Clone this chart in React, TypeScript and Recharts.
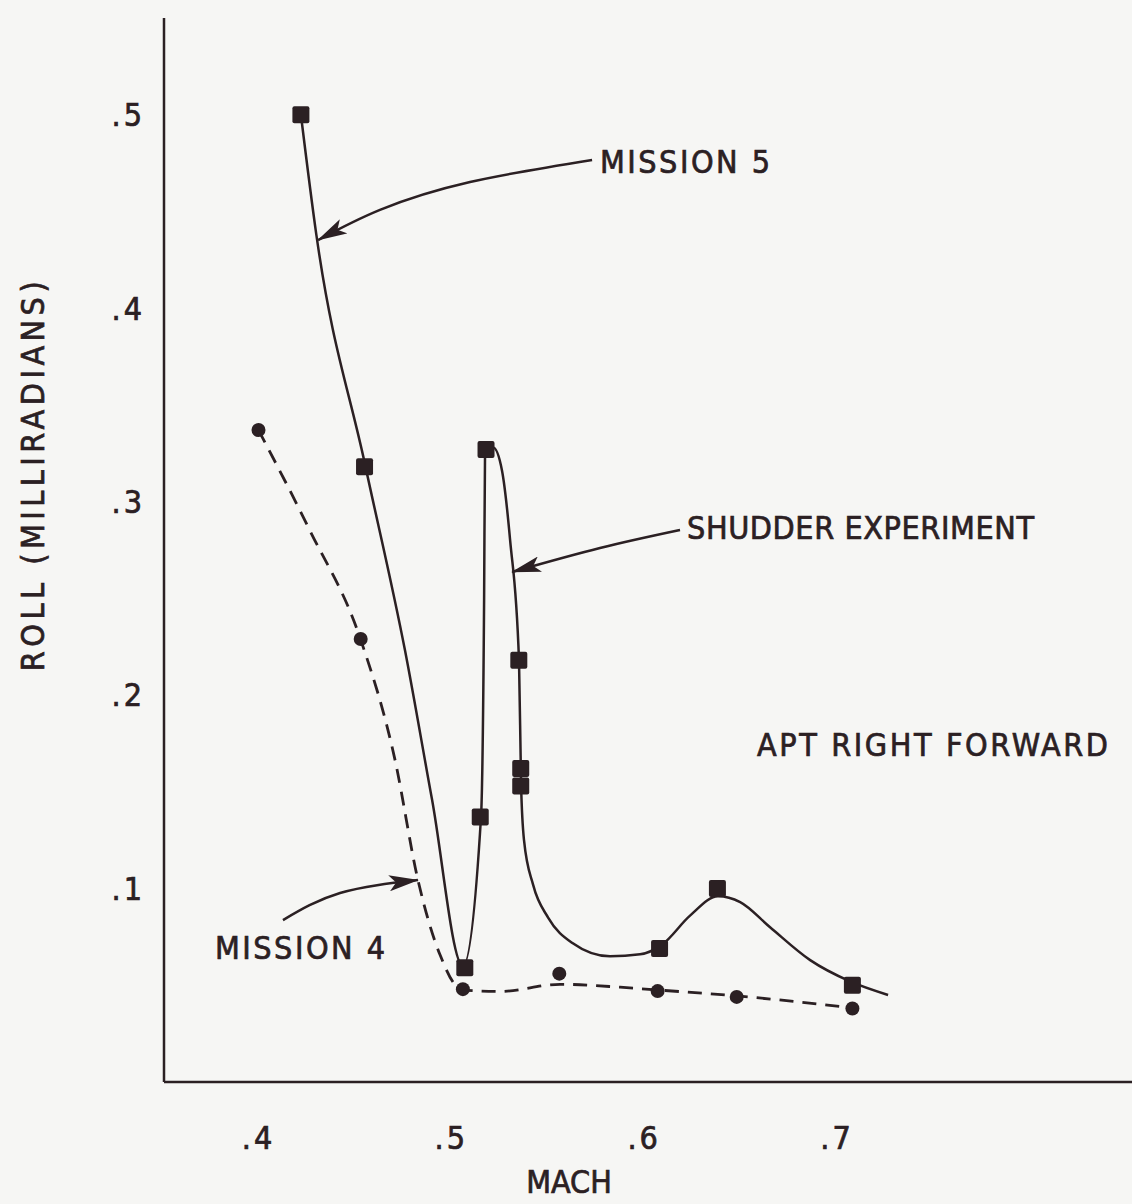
import { ComposedChart, Line, Scatter, XAxis, YAxis } from 'recharts';

const INK = '#2b2023';
const PAPER = '#f6f6f4';
const FONT = "'DejaVu Sans Condensed', 'Liberation Sans Narrow', sans-serif";

const machTicks = [0.4, 0.5, 0.6, 0.7];
const rollTicks = [0.1, 0.2, 0.3, 0.4, 0.5];

// measured points, mission 5 (squares) and mission 4 (circles)
const m5Mach = [0.422, 0.455, 0.507, 0.515, 0.518, 0.535, 0.536, 0.536, 0.608, 0.638, 0.708];
const m5Roll = [0.5, 0.318, 0.059, 0.137, 0.327, 0.218, 0.162, 0.153, 0.069, 0.1, 0.05];
const m4Mach = [0.4, 0.453, 0.506, 0.556, 0.607, 0.648, 0.708];
const m4Roll = [0.337, 0.229, 0.048, 0.056, 0.047, 0.044, 0.038];

// faired curves
const m5FairMach = [0.422, 0.43, 0.4553, 0.476, 0.49, 0.506, 0.5154, 0.517, 0.5175, 0.5217, 0.5263, 0.5305, 0.5351, 0.5362, 0.5377, 0.5424, 0.5502, 0.5626, 0.5823, 0.5979, 0.6093, 0.6238, 0.6383, 0.6498, 0.6653, 0.6861, 0.7068, 0.7265];
const m5FairRoll = [0.5, 0.438, 0.319, 0.223, 0.146, 0.06, 0.137, 0.249, 0.327, 0.328, 0.316, 0.28, 0.218, 0.153, 0.125, 0.102, 0.085, 0.072, 0.065, 0.066, 0.071, 0.086, 0.096, 0.093, 0.08, 0.063, 0.052, 0.045];
const m4FairMach = [0.4, 0.4267, 0.4527, 0.4708, 0.4827, 0.4942, 0.5056, 0.5253, 0.5564, 0.5875, 0.6067, 0.6482, 0.7078];
const m4FairRoll = [0.337, 0.285, 0.2295, 0.1665, 0.1044, 0.0656, 0.0476, 0.0468, 0.0505, 0.049, 0.0476, 0.0445, 0.0383];

// leader arrows (tail -> tip)
const arrow5Mach = [0.573, 0.5097, 0.463, 0.4309];
const arrow5Roll = [0.4766, 0.4652, 0.4508, 0.4352];
const arrowShudMach = [0.6186, 0.5771, 0.5315];
const arrowShudRoll = [0.2853, 0.276, 0.2636];
const arrow4Mach = [0.4127, 0.4423, 0.4827];
const arrow4Roll = [0.0837, 0.0977, 0.1044];

const zip = (xs: number[], ys: number[]) => xs.map((x, i) => ({ x, y: ys[i] }));

const mission5 = zip(m5Mach, m5Roll);
const mission4 = zip(m4Mach, m4Roll);
const mission5Fair = zip(m5FairMach, m5FairRoll);
const mission4Fair = zip(m4FairMach, m4FairRoll);
const arrows = [
  zip(arrow5Mach, arrow5Roll),
  zip(arrowShudMach, arrowShudRoll),
  zip(arrow4Mach, arrow4Roll),
];

const fmt = (v: number) => String(v).replace(/^0/, '');
const tickStyle = {
  fill: INK,
  stroke: INK,
  strokeWidth: 0.7,
  fontSize: 32,
  fontFamily: FONT,
  letterSpacing: 3,
};

function SquareMark(props: any) {
  const { cx, cy } = props;
  return <rect x={cx - 8.5} y={cy - 8.5} width={17} height={17} rx={2} fill={INK} />;
}

function DotMark(props: any) {
  const { cx, cy } = props;
  return <circle cx={cx} cy={cy} r={7} fill={INK} />;
}

const notes = [
  { text: 'MISSION 5', left: 600, top: 162, spacing: 2.5 },
  { text: 'SHUDDER EXPERIMENT', left: 687, top: 528, spacing: 0.6 },
  { text: 'APT RIGHT FORWARD', left: 757, top: 745, spacing: 2.6 },
  { text: 'MISSION 4', left: 215, top: 948, spacing: 2.5 },
];

const textStyle: React.CSSProperties = {
  position: 'absolute',
  fontFamily: FONT,
  fontSize: 32,
  color: INK,
  lineHeight: 1,
  whiteSpace: 'nowrap',
  WebkitTextStroke: `0.7px ${INK}`,
};

export default function App() {
  return (
    <div style={{ position: 'absolute', left: 0, top: 0, width: 1132, height: 1204, background: PAPER }}>
      <ComposedChart width={1132} height={1204} margin={{ top: 18, right: 0, bottom: 0, left: 0 }}>
        <defs>
          <marker
            id="head"
            viewBox="0 0 30 16"
            refX="29"
            refY="8"
            markerWidth="30"
            markerHeight="16"
            markerUnits="userSpaceOnUse"
            orient="auto"
          >
            <path d="M0,0 L30,8 L0,16 L7,8 z" fill={INK} />
          </marker>
        </defs>
        <XAxis
          type="number"
          dataKey="x"
          domain={[0.351, 0.853]}
          ticks={machTicks}
          tickFormatter={fmt}
          allowDataOverflow
          axisLine={{ stroke: INK, strokeWidth: 2.5 }}
          tickLine={false}
          tickSize={0}
          tickMargin={44}
          height={122}
          tick={tickStyle}
        />
        <YAxis
          type="number"
          dataKey="y"
          domain={[0, 0.55]}
          ticks={rollTicks}
          tickFormatter={fmt}
          allowDataOverflow
          axisLine={{ stroke: INK, strokeWidth: 2.5 }}
          tickLine={false}
          tickSize={0}
          tickMargin={19}
          width={164}
          tick={tickStyle}
        />
        <Line
          data={mission5Fair}
          dataKey="y"
          type="monotone"
          stroke={INK}
          strokeWidth={2.5}
          dot={false}
          activeDot={false}
          isAnimationActive={false}
        />
        <Line
          data={mission4Fair}
          dataKey="y"
          type="monotone"
          stroke={INK}
          strokeWidth={2.8}
          strokeDasharray="14 9"
          dot={false}
          activeDot={false}
          isAnimationActive={false}
        />
        {arrows.map((a, i) => (
          <Line
            key={i}
            data={a}
            dataKey="y"
            type="natural"
            stroke={INK}
            strokeWidth={2.5}
            markerEnd="url(#head)"
            dot={false}
            activeDot={false}
            isAnimationActive={false}
          />
        ))}
        <Scatter data={mission5} dataKey="y" shape={SquareMark} isAnimationActive={false} />
        <Scatter data={mission4} dataKey="y" shape={DotMark} isAnimationActive={false} />
      </ComposedChart>
      {notes.map((n) => (
        <div
          key={n.text}
          style={{ ...textStyle, left: n.left, top: n.top, letterSpacing: n.spacing, transform: 'translateY(-50%)' }}
        >
          {n.text}
        </div>
      ))}
      <div style={{ ...textStyle, left: 569, top: 1182, transform: 'translate(-50%, -50%)' }}>MACH</div>
      <div
        style={{ ...textStyle, left: 33, top: 474, letterSpacing: 4.5, transform: 'translate(-50%, -50%) rotate(-90deg)' }}
      >
        ROLL (MILLIRADIANS)
      </div>
    </div>
  );
}
